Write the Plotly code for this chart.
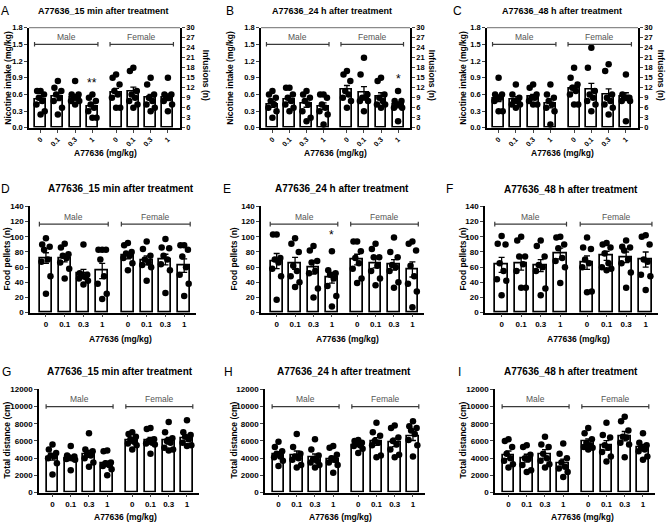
import plotly.graph_objects as go

W, H = 669, 529

# ---------------- data ----------------
doses = ["0", "0.1", "0.3", "1", "0", "0.1", "0.3", "1"]
groups = ["Male", "Female"]
titles = ["A77636_15 min after treatment", "A77636_24 h after treatment", "A77636_48 h after treatment"]
letters = ["A", "B", "C", "D", "E", "F", "G", "H", "I"]
ytitles = ["Nicotine intake (mg/kg)", "Food pellets (n)", "Total distance (cm)"]
xtitle = "A77636 (mg/kg)"
right_title = "Infusions (n)"

# Nicotine intake (mg/kg)
A_mean = [0.50, 0.56, 0.55, 0.39, 0.64, 0.65, 0.55, 0.55]
A_sem = [0.05, 0.07, 0.05, 0.05, 0.07, 0.08, 0.05, 0.06]
A_pts = [[0.66, 0.66, 0.60, 0.54, 0.48, 0.42, 0.30, 0.24],
         [0.84, 0.72, 0.66, 0.60, 0.54, 0.48, 0.36, 0.24],
         [0.84, 0.60, 0.60, 0.54, 0.54, 0.48, 0.48, 0.42],
         [0.60, 0.54, 0.48, 0.42, 0.36, 0.30, 0.18, 0.18],
         [0.96, 0.90, 0.78, 0.66, 0.60, 0.54, 0.36, 0.36],
         [1.08, 1.02, 0.66, 0.60, 0.54, 0.48, 0.42, 0.36],
         [0.90, 0.78, 0.60, 0.54, 0.48, 0.42, 0.36, 0.30],
         [0.90, 0.60, 0.60, 0.54, 0.54, 0.48, 0.42, 0.30]]
B_mean = [0.42, 0.51, 0.44, 0.39, 0.69, 0.64, 0.57, 0.41]
B_sem = [0.05, 0.05, 0.07, 0.06, 0.07, 0.10, 0.06, 0.05]
B_pts = [[0.66, 0.60, 0.54, 0.48, 0.42, 0.36, 0.30, 0.18],
         [0.72, 0.72, 0.60, 0.54, 0.48, 0.42, 0.36, 0.30],
         [0.66, 0.60, 0.54, 0.48, 0.42, 0.30, 0.18, 0.12],
         [0.60, 0.60, 0.54, 0.42, 0.36, 0.30, 0.24, 0.06],
         [1.02, 0.96, 0.84, 0.66, 0.60, 0.54, 0.48, 0.36],
         [1.26, 0.96, 0.60, 0.54, 0.54, 0.48, 0.48, 0.30],
         [0.90, 0.84, 0.60, 0.54, 0.48, 0.42, 0.42, 0.36],
         [0.66, 0.48, 0.48, 0.42, 0.42, 0.36, 0.36, 0.12]]
C_mean = [0.53, 0.51, 0.56, 0.44, 0.70, 0.68, 0.60, 0.56]
C_sem = [0.06, 0.05, 0.04, 0.08, 0.06, 0.12, 0.10, 0.07]
C_pts = [[0.90, 0.60, 0.60, 0.54, 0.54, 0.48, 0.30, 0.30],
         [0.78, 0.60, 0.54, 0.48, 0.48, 0.42, 0.42, 0.36],
         [0.78, 0.72, 0.60, 0.54, 0.54, 0.48, 0.42, 0.42],
         [0.78, 0.60, 0.54, 0.48, 0.42, 0.36, 0.30, 0.06],
         [1.08, 0.90, 0.78, 0.72, 0.66, 0.60, 0.42, 0.42],
         [1.44, 1.08, 0.66, 0.60, 0.54, 0.48, 0.42, 0.30],
         [1.14, 1.02, 0.60, 0.54, 0.48, 0.42, 0.36, 0.24],
         [0.96, 0.60, 0.54, 0.54, 0.54, 0.48, 0.48, 0.12]]
# Food pellets (n)
D_mean = [72, 72, 52, 55, 75, 69, 70, 62]
D_sem = [7, 5, 5, 10, 4, 6, 7, 9]
D_pts = [[98, 90, 87, 83, 70, 67, 48, 25],
         [91, 86, 77, 75, 72, 66, 58, 45],
         [90, 52, 50, 48, 47, 45, 42, 37],
         [83, 83, 83, 70, 48, 38, 25, 18],
         [92, 89, 80, 78, 75, 72, 65, 56],
         [94, 84, 75, 70, 66, 63, 60, 42],
         [97, 86, 85, 75, 70, 64, 56, 26],
         [89, 89, 83, 74, 60, 50, 38, 22]]
E_mean = [68, 65, 59, 46, 70, 65, 63, 57]
E_sem = [10, 8, 8, 7, 7, 6, 7, 10]
E_pts = [[103, 103, 72, 70, 66, 58, 48, 17],
         [98, 91, 80, 62, 55, 48, 40, 34],
         [88, 82, 68, 66, 55, 52, 32, 20],
         [81, 56, 52, 50, 45, 35, 22, 8],
         [94, 94, 81, 72, 65, 58, 45, 39],
         [91, 84, 73, 73, 62, 55, 45, 36],
         [99, 80, 73, 63, 60, 55, 40, 33],
         [94, 91, 82, 62, 48, 38, 28, 7]]
F_mean = [63, 65, 62, 78, 66, 75, 73, 70]
F_sem = [10, 9, 8, 7, 9, 6, 7, 10]
F_pts = [[101, 91, 90, 65, 55, 44, 42, 23],
         [100, 95, 74, 74, 64, 55, 33, 33],
         [95, 88, 74, 63, 60, 55, 32, 23],
         [100, 99, 90, 85, 72, 68, 60, 39],
         [99, 86, 84, 70, 65, 60, 28, 27],
         [92, 90, 86, 78, 65, 60, 58, 56],
         [95, 87, 86, 82, 70, 65, 53, 33],
         [102, 100, 90, 70, 67, 50, 48, 30]]
# Total distance (cm)
G_mean = [4110, 4000, 4500, 3350, 6020, 6020, 6020, 6320]
G_sem = [350, 300, 400, 300, 250, 400, 400, 350]
G_pts = [[5600, 5000, 4600, 4300, 4200, 4000, 3400, 2100],
         [5400, 4300, 4200, 4100, 4000, 3900, 3800, 2600],
         [6900, 5000, 4800, 4500, 4300, 4000, 3500, 3000],
         [4900, 4800, 3500, 3400, 3200, 3100, 2700, 2000],
         [7000, 6800, 6500, 6200, 5900, 5700, 5500, 5000],
         [7500, 7400, 6200, 6000, 5800, 5700, 5600, 4500],
         [8200, 7000, 6300, 6000, 5800, 5200, 5000, 4900],
         [8400, 7000, 6700, 6500, 6200, 5800, 5500, 5400]]
H_mean = [4460, 4380, 4080, 3890, 5520, 5940, 5830, 6550]
H_sem = [300, 450, 400, 350, 150, 450, 500, 500]
H_pts = [[5900, 5300, 4800, 4500, 4200, 4100, 3700, 3100],
         [6800, 5300, 4500, 4200, 4000, 3800, 3200, 2900],
         [6200, 5000, 4300, 3900, 3700, 3500, 3200, 2900],
         [5400, 5200, 4400, 4000, 3800, 3500, 3200, 2300],
         [6100, 6000, 5800, 5700, 5500, 5400, 5100, 4600],
         [8100, 7000, 6600, 6000, 5800, 5500, 4300, 4100],
         [7800, 7500, 6400, 6000, 5600, 5000, 4400, 4100],
         [8300, 7700, 7500, 7200, 6800, 6100, 5500, 4200]]
I_mean = [4380, 4000, 4500, 3430, 5900, 5490, 6550, 5260]
I_sem = [450, 450, 500, 450, 350, 550, 550, 350]
I_pts = [[6200, 6000, 5300, 4500, 4000, 3700, 3300, 2900],
         [5500, 5300, 4400, 4000, 3900, 3200, 2600, 2400],
         [6500, 5600, 5300, 4500, 4000, 3700, 3300, 2900],
         [5700, 4500, 4000, 3500, 3000, 2800, 2400, 1800],
         [7500, 6900, 6200, 5800, 5500, 5300, 5200, 5000],
         [8100, 6700, 6400, 5500, 5200, 4700, 4200, 3600],
         [8800, 8300, 7200, 6500, 6400, 5800, 5600, 4100],
         [6900, 5800, 5500, 5200, 5000, 4800, 4200, 3800]]

means = [A_mean, B_mean, C_mean, D_mean, E_mean, F_mean, G_mean, H_mean, I_mean]
sems = [A_sem, B_sem, C_sem, D_sem, E_sem, F_sem, G_sem, H_sem, I_sem]
points = [A_pts, B_pts, C_pts, D_pts, E_pts, F_pts, G_pts, H_pts, I_pts]

# significance marks: (panel, bar index, label, y value)
sig_marks = [(0, 3, "**", 0.80), (1, 7, "*", 0.87), (4, 3, "*", 102)]

# ---------------- layout geometry (pixels) ----------------
boxes = [(29, 180, 24, 126), (261, 410, 24, 126), (487, 638, 24, 126),
         (30, 196, 206, 314), (261, 424, 206, 314), (485, 658, 206, 314),
         (39, 199, 392, 497), (265, 425, 392, 497), (495, 655, 392, 497)]
xpos = [0, 1, 2, 3, 4.37, 5.37, 6.37, 7.37]
xranges = [[-0.67, 8.07], [-0.85, 8.0], [-0.74, 8.03]]
yranges = [[0, 1.8], [0, 140], [0, 12000]]
ydticks = [0.3, 20, 2000]
ytickfmt = [".1f", "d", "d"]
title_pos = [(103, 7), (332, 7), (562, 7), (121, 188), (342, 188), (571, 189),
             (120, 374), (344, 374), (571, 374)]
letter_pos = [(5, 7), (230, 7), (457, 7), (5, 188), (227, 188), (449, 188),
              (6, 374), (228, 374), (460, 374)]
ytitle_pos = [(8, 75), (230, 75), (463, 75), (7, 260), (234, 260), (463, 260),
              (7, 444), (234, 444), (463, 444)]
xtitle_pos = [(105, 152), (335, 152), (562, 152), (120, 341), (348, 341), (578, 341),
              (126, 522), (340, 522), (582, 522)]
rtitle_pos = [(206, 72), (432, 72), (661, 72)]

FONT = "Liberation Sans, Arial, sans-serif"
jitter = [0.0, -0.2, 0.2, -0.1, 0.1, -0.24, 0.24, 0.0]


def px(x, y):
    return x / W, 1 - y / H


def paper_text(pos, text, size, bold=True, angle=0, color="black"):
    x, y = px(*pos)
    return dict(x=x, y=y, xref="paper", yref="paper", text=text, showarrow=False,
                xanchor="center", yanchor="middle", textangle=angle,
                font=dict(family=FONT, size=size, color=color,
                          weight="bold" if bold else "normal"))


fig = go.Figure()
annotations = []
shapes = []

for i in range(9):
    row = i // 3
    xa = "x" if i == 0 else f"x{i+1}"
    ya = "y" if i == 0 else f"y{i+1}"
    l, r, t, b = boxes[i]
    fs_title = 9 if row == 0 else 10

    fig.add_trace(go.Bar(
        x=xpos, y=means[i], width=0.64, xaxis=xa, yaxis=ya,
        marker=dict(color="white", line=dict(color="black", width=1.7)),
        error_y=dict(type="data", array=sems[i], color="black", thickness=1.3, width=3),
        showlegend=False, hoverinfo="skip"))

    px_x, px_y = [], []
    for k, grp in enumerate(points[i]):
        for j, v in enumerate(grp):
            px_x.append(xpos[k] + jitter[j % len(jitter)])
            px_y.append(v)
    fig.add_trace(go.Scatter(
        x=px_x, y=px_y, mode="markers", xaxis=xa, yaxis=ya,
        marker=dict(color="black", size=6.5), showlegend=False,
        hoverinfo="skip", cliponaxis=False))

    xk = "xaxis" if i == 0 else f"xaxis{i+1}"
    yk = "yaxis" if i == 0 else f"yaxis{i+1}"
    x0, _ = px(l, 0)
    x1, _ = px(r, 0)
    _, y1 = px(0, t)
    _, y0 = px(0, b)
    fig.layout[xk] = dict(
        domain=[x0, x1], anchor=ya, range=xranges[row], tickmode="array",
        tickvals=xpos, ticktext=doses, ticks="outside", ticklen=3, tickwidth=1.2,
        tickangle=-45 if row == 0 else 0,
        tickfont=dict(family=FONT, size=7 if row == 0 else 8, color="black", weight="bold"),
        showline=True, linecolor="black", linewidth=1.6, showgrid=False, zeroline=False,
        fixedrange=True)
    fig.layout[yk] = dict(
        domain=[y0, y1], anchor=xa, range=yranges[row], dtick=ydticks[row],
        tickformat=ytickfmt[row], ticks="outside", ticklen=3, tickwidth=1.2,
        tickfont=dict(family=FONT, size=7.5 if row == 0 else 8, color="black", weight="bold"),
        showline=True, linecolor="black", linewidth=1.6, showgrid=False, zeroline=False,
        fixedrange=True)

    if row == 0:
        rk = f"yaxis{10 + i}"
        fig.layout[rk] = dict(
            overlaying=ya, side="right", anchor=xa, range=[0, 30], dtick=3,
            ticks="outside", ticklen=3, tickwidth=1.2,
            tickfont=dict(family=FONT, size=7.5, color="black", weight="bold"),
            showline=True, linecolor="black", linewidth=1.6, showgrid=False,
            zeroline=False, fixedrange=True)
        fig.add_trace(go.Scatter(x=[xpos[0]], y=[0], yaxis=f"y{10 + i}", xaxis=xa,
                                 mode="markers", marker=dict(opacity=0), showlegend=False,
                                 hoverinfo="skip"))
        shapes.append(dict(type="line", xref=f"{xa} domain", yref=f"{ya} domain",
                           x0=0, x1=1, y0=1, y1=1, line=dict(color="#8a8a8a", width=1.2)))
        annotations.append(paper_text(rtitle_pos[i], right_title, 8.5, angle=90))

    # brackets + group labels
    ymax = yranges[row][1]
    yb = ymax * 5 / 6
    d = ymax * 0.022
    for g in range(2):
        xa0 = xpos[4 * g] - 0.35
        xa1 = xpos[4 * g + 3] + 0.32
        for (sx0, sx1, sy0, sy1) in [(xa0, xa1, yb, yb), (xa0, xa0, yb - d, yb + d),
                                     (xa1, xa1, yb - d, yb + d)]:
            shapes.append(dict(type="line", xref=xa, yref=ya, x0=sx0, x1=sx1,
                               y0=sy0, y1=sy1, line=dict(color="#3a3a3a", width=1.2)))
        annotations.append(dict(x=(xa0 + xa1) / 2, y=ymax * 0.905, xref=xa, yref=ya,
                                text=groups[g], showarrow=False,
                                xanchor="center", yanchor="middle",
                                font=dict(family=FONT, size=8.5, color="#555555")))

    annotations.append(paper_text(title_pos[i], titles[i % 3], fs_title))
    annotations.append(paper_text(letter_pos[i], letters[i], 12, bold=False))
    annotations.append(paper_text(ytitle_pos[i], ytitles[row], 8.5, angle=-90))
    annotations.append(paper_text(xtitle_pos[i], xtitle, 8.5))

for (p, k, lab, yv) in sig_marks:
    xa = "x" if p == 0 else f"x{p+1}"
    ya = "y" if p == 0 else f"y{p+1}"
    annotations.append(dict(x=xpos[k], y=yv, xref=xa, yref=ya, text=lab, showarrow=False,
                            xanchor="center", yanchor="middle",
                            font=dict(family=FONT, size=12, color="black")))

fig.update_layout(width=W, height=H, margin=dict(l=0, r=0, t=0, b=0),
                  paper_bgcolor="white", plot_bgcolor="white",
                  annotations=annotations, shapes=shapes, bargap=0, showlegend=False)

fig.write_html("out.html", config={"displayModeBar": False},
               post_script="document.body.style.margin='0px';"
                           "document.body.style.overflow='hidden';")
